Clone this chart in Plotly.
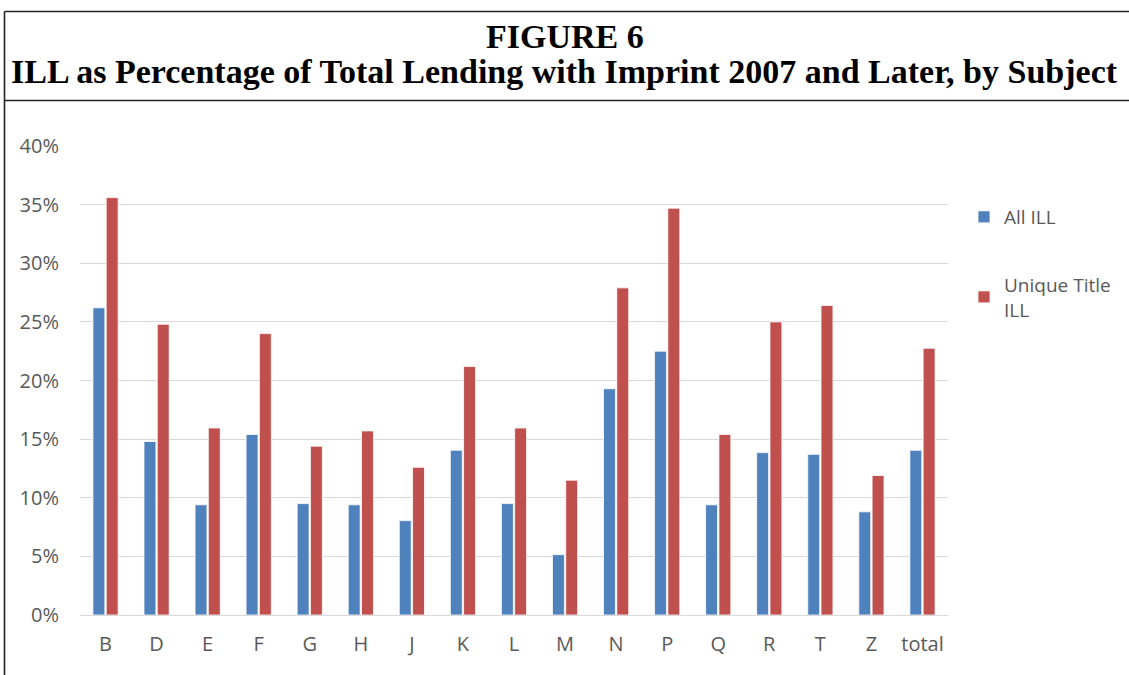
import plotly.graph_objects as go

subjects = ["B", "D", "E", "F", "G", "H", "J", "K", "L", "M", "N", "P", "Q", "R", "T", "Z", "total"]
all_ill = [0.262, 0.148, 0.094, 0.154, 0.095, 0.094, 0.0805, 0.1405, 0.095, 0.0515, 0.193, 0.225, 0.094, 0.1385, 0.137, 0.088, 0.1405]
unique_title_ill = [0.356, 0.248, 0.1595, 0.240, 0.144, 0.157, 0.126, 0.212, 0.1595, 0.115, 0.279, 0.347, 0.154, 0.250, 0.264, 0.119, 0.2275]

W, H = 1129, 675
L, R, T, B = 80, 181, 146, 60
plot_h = H - T - B
plot_w = W - L - R


def py(y):
    # pixel row -> paper y
    return (H - B - y) / plot_h


def px(x):
    return (x - L) / plot_w


fig = go.Figure()
fig.add_trace(go.Bar(
    x=subjects, y=all_ill, name="All ILL", legendgroup="a",
    marker=dict(color="#4F81BD", line=dict(color="white", width=0.8)),
))
fig.add_trace(go.Bar(
    x=subjects, y=unique_title_ill, name="Unique Title<br>ILL", legendgroup="b",
    marker=dict(color="#C0504D", line=dict(color="white", width=0.8)),
))

tick_font = dict(family="Open Sans, Noto Sans, sans-serif", size=20, color="#595959")

fig.update_layout(
    width=W, height=H,
    margin=dict(l=L, r=R, t=T, b=B),
    paper_bgcolor="white", plot_bgcolor="white",
    barmode="group", bargap=0.48, bargroupgap=0.1,
    font=tick_font,
    legend=dict(
        x=px(964), y=py(198), xanchor="left", yanchor="top",
        font=dict(family="Open Sans, Noto Sans, sans-serif", size=19, color="#595959"),
        traceorder="grouped", tracegroupgap=40, itemwidth=30,
    ),
    showlegend=True,
)
fig.update_yaxes(
    range=[0, 0.4], dtick=0.05, tickformat=".0%",
    showgrid=True, gridcolor="#D9D9D9", gridwidth=1,
    zeroline=True, zerolinecolor="#D9D9D9", zerolinewidth=1,
    showline=False, ticks="", ticklabelstandoff=20, tickfont=tick_font,
)
fig.update_xaxes(
    showgrid=False, showline=False, ticks="", ticklabelstandoff=15, tickfont=tick_font,
)

title_font = dict(family="Liberation Serif, Times New Roman, serif", size=34, color="black")
fig.add_annotation(text="<b>FIGURE 6</b>", xref="paper", yref="paper",
                   x=px(W / 2), y=py(36), xanchor="center", yanchor="middle",
                   showarrow=False, font=title_font)
fig.add_annotation(text="<b>ILL as Percentage of Total Lending with Imprint 2007 and Later, by Subject</b>",
                   xref="paper", yref="paper",
                   x=px(W / 2), y=py(71), xanchor="center", yanchor="middle",
                   showarrow=False, font=title_font)

border = dict(color="#222222", width=1.6)
fig.add_shape(type="line", xref="paper", yref="paper",
              x0=px(4.5), x1=px(W), y0=py(11.5), y1=py(11.5), line=border)
fig.add_shape(type="line", xref="paper", yref="paper",
              x0=px(4.5), x1=px(W), y0=py(100.5), y1=py(100.5), line=border)
fig.add_shape(type="line", xref="paper", yref="paper",
              x0=px(4.5), x1=px(4.5), y0=py(11.5), y1=py(H), line=border)

fig.write_html("out.html", config={"displayModeBar": False},
               post_script="document.body.style.margin='0';")
